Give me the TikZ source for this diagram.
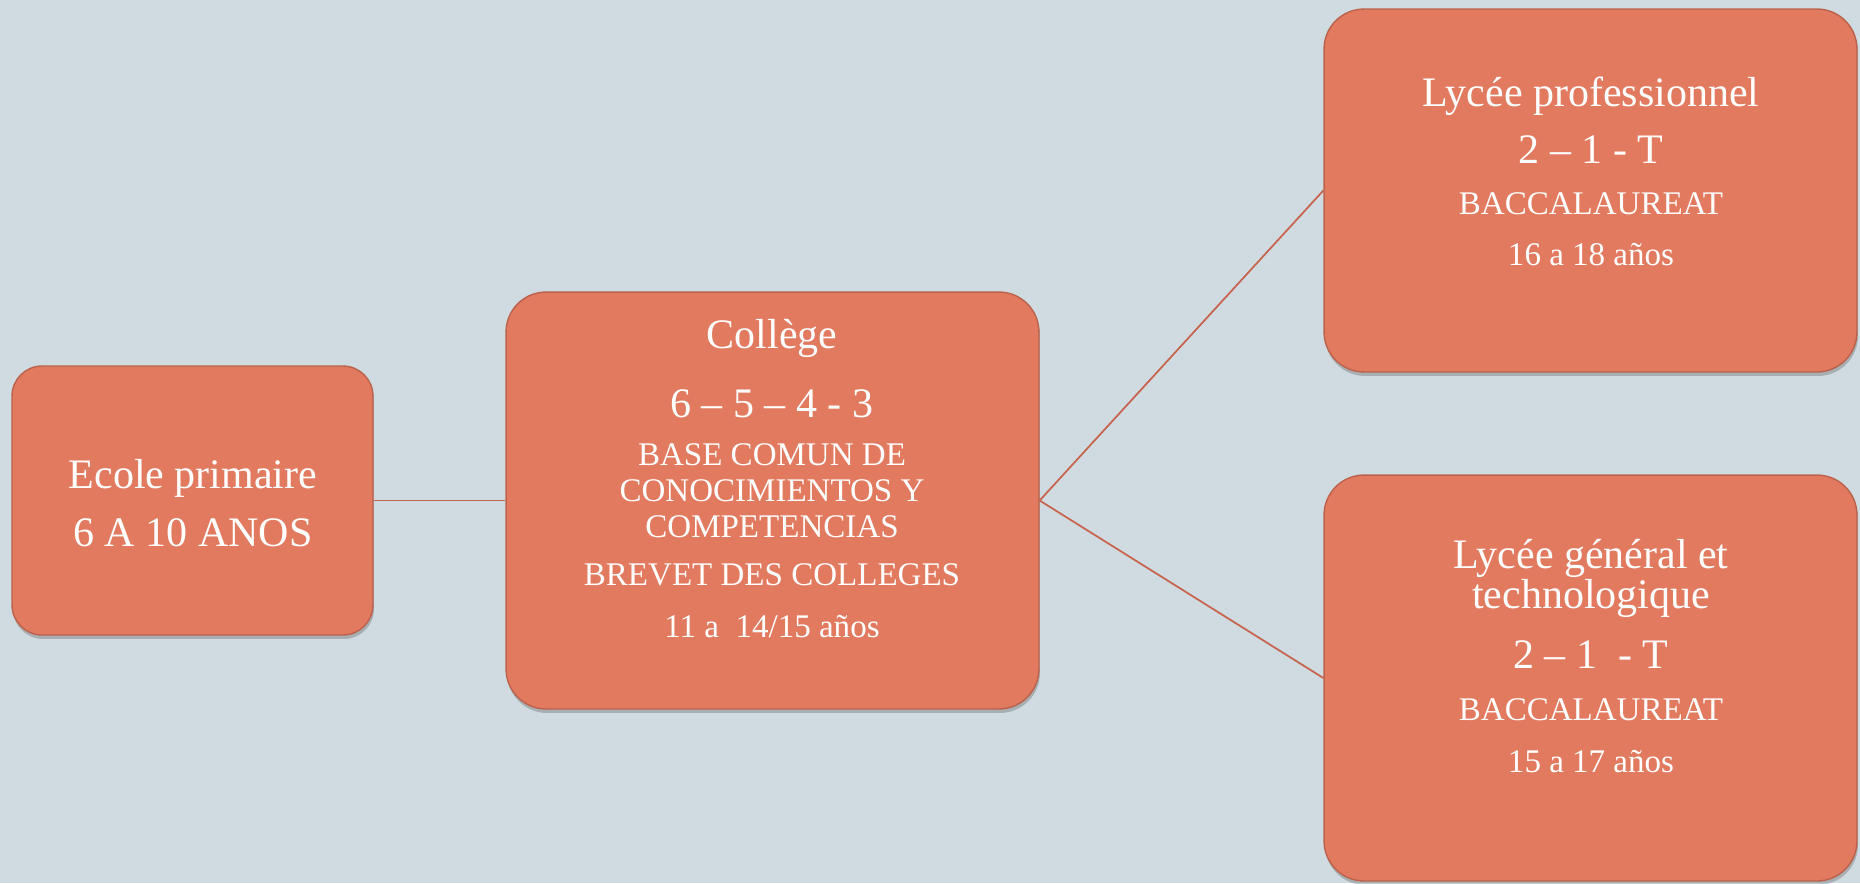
\documentclass[tikz,border=0pt]{standalone}
\usepackage{fontspec}
\setmainfont{Liberation Serif}
\usetikzlibrary{positioning,shadows}
\definecolor{bgblue}{RGB}{207,219,224}
\definecolor{boxfill}{RGB}{225,122,94}
\definecolor{boxline}{RGB}{188,98,76}
\definecolor{linkline}{RGB}{200,100,78}
\newcommand{\bigline}{\fontsize{23.9}{23}\selectfont}
\tikzset{
  stage/.style={draw=boxline, line width=0.8pt, fill=boxfill, rounded corners=0.8cm, inner sep=0pt,
    drop shadow={shadow xshift=0.02cm, shadow yshift=-0.08cm, opacity=0.3, fill=black!70}},
  stagetext/.style={align=center, text=white, anchor=north, inner sep=0pt, font=\fontsize{18.8}{23}\selectfont},
  link/.style={draw=linkline, line width=1pt}
}
\begin{document}
\begin{tikzpicture}[x=0.02cm,y=-0.02cm]
\useasboundingbox (0,0) rectangle (1860,883);
\fill[bgblue] (0,0) rectangle (1860,883);
%%%%%%%%%%%%%%%%
\node[stage, rounded corners=0.6cm, minimum width=7.22cm, minimum height=5.38cm] (ecole) at (192.5,500.5) {};
\node[stagetext] (ecoletxt) at (193,459) {{\bigline Ecole primaire}\\[10pt]{\bigline 6 A 10 ANOS}};
%%%%%%%%%%%%%%%%
\node[stage, minimum width=10.66cm, minimum height=8.34cm] (college) at (772.5,500.5) {};
\node[stagetext] (collegetxt) at (772,319) {{\bigline Collège}\\[16pt]{\bigline 6 – 5 – 4 - 3}\\[4.6pt]BASE COMUN DE\\[-2.5pt]CONOCIMIENTOS Y\\[-2.5pt]COMPETENCIAS\\[4.3pt]BREVET DES COLLEGES\\[6.6pt]11 a~ 14/15 años};
%%%%%%%%%%%%%%%%
\node[stage, minimum width=10.66cm, minimum height=7.26cm] (lpro) at (1590.5,190.5) {};
\node[stagetext] (lprotxt) at (1591,77) {{\bigline Lycée professionnel}\\[9.4pt]{\bigline 2 – 1 - T}\\[5.7pt]BACCALAUREAT\\[6.4pt]16 a 18 años};
%%%%%%%%%%%%%%%%
\node[stage, minimum width=10.66cm, minimum height=8.12cm] (lgen) at (1590.5,678) {};
\node[stagetext] (lgentxt) at (1591,539) {{\bigline Lycée général et}\\[-0.2pt]{\bigline technologique}\\[11.1pt]{\bigline 2 – 1~ - T}\\[6.6pt]BACCALAUREAT\\[6.6pt]15 a 17 años};
%%%%%%%%%%%%%%%%
\draw[link] (ecole) -- (college);
\draw[link] (college.east) -- (lpro.west);
\draw[link] (college.east) -- (lgen.west);
\end{tikzpicture}
\end{document}
